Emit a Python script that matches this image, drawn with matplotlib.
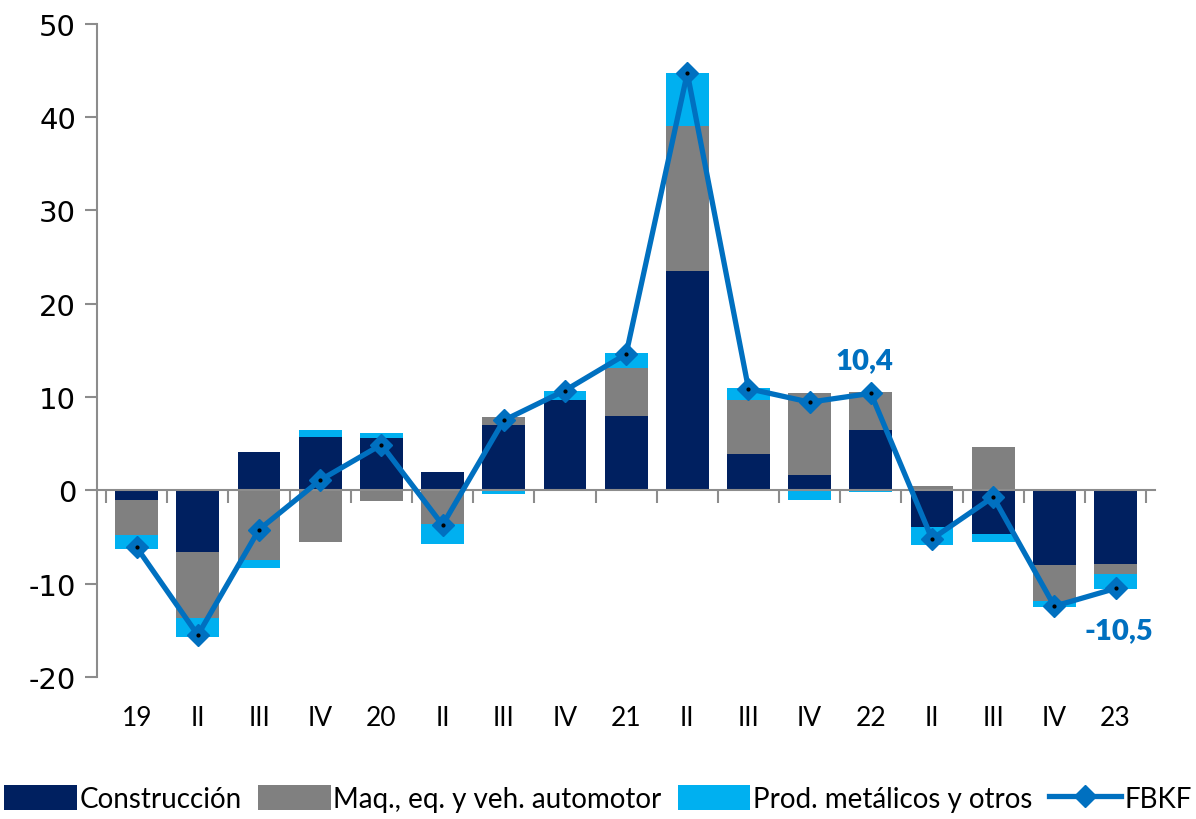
import numpy as np
import matplotlib.pyplot as plt

# datos (variacion % anual, contribuciones)
periodos = ['19', 'II', 'III', 'IV', '20', 'II', 'III', 'IV', '21', 'II', 'III', 'IV', '22', 'II', 'III', 'IV', '23']
construccion = [-1.0, -6.6, 4.1, 5.75, 5.6, 2.0, 7.0, 9.7, 8.0, 23.5, 3.9, 1.65, 6.45, -3.95, -4.65, -8.0, -7.85]
maquinaria = [-3.8, -7.1, -7.4, -5.5, -1.15, -3.55, 0.85, 0.0, 5.1, 15.5, 5.75, 8.8, 4.1, 0.5, 4.7, -3.8, -1.05]
prod_metalicos = [-1.5, -2.0, -0.9, 0.75, 0.5, -2.15, -0.35, 1.0, 1.6, 5.7, 1.35, -1.0, -0.15, -1.85, -0.9, -0.7, -1.65]
fbkf = [-6.1, -15.5, -4.2, 1.1, 4.9, -3.7, 7.5, 10.7, 14.6, 44.7, 10.9, 9.45, 10.4, -5.2, -0.7, -12.4, -10.5]

azul_osc = '#002060'
gris = '#808080'
celeste = '#00B0F0'
azul = '#0070C0'

plt.rcParams['font.family'] = ['Lato', 'DejaVu Sans']
plt.rcParams['axes.unicode_minus'] = False

fig = plt.figure(figsize=(11.96, 8.2), dpi=100)
ax = fig.add_axes([0.081, 0.173, 0.885, 0.797])

x = np.arange(len(periodos))
ancho = 0.7

# apilado separado para positivos y negativos (estilo Excel)
pos_base = np.zeros(len(x))
neg_base = np.zeros(len(x))
for serie, color, nombre in [(construccion, azul_osc, 'Construcción'),
                             (maquinaria, gris, 'Maq., eq. y veh. automotor'),
                             (prod_metalicos, celeste, 'Prod. metálicos y otros')]:
    v = np.array(serie)
    base = np.where(v >= 0, pos_base, neg_base)
    ax.bar(x, v, ancho, bottom=base, color=color, label=nombre, zorder=2)
    pos_base = pos_base + np.where(v >= 0, v, 0)
    neg_base = neg_base + np.where(v < 0, v, 0)

ax.plot(x, fbkf, color=azul, linewidth=3.8, marker='D', markersize=11,
        markerfacecolor=azul, markeredgecolor=azul, label='FBKF', zorder=3)
ax.plot(x, fbkf, linestyle='none', marker='.', markersize=4, color='black', zorder=4)

# etiquetas de datos
ax.text(x[12] - 0.1, fbkf[12] + 3.6, '10,4', color=azul, fontsize=21,
        fontweight='heavy', ha='center', va='center')
ax.text(x[16] + 0.05, fbkf[16] - 4.5, '-10,5', color=azul, fontsize=21,
        fontweight='heavy', ha='center', va='center')

ax.set_ylim(-20, 50)
ax.set_xlim(-0.65, len(x) - 0.35)
ax.set_yticks(range(-20, 51, 10))
ax.tick_params(axis='y', labelsize=21, length=9, width=1.5, color='#8c8c8c', pad=6)
for lab in ax.get_yticklabels():
    lab.set_fontfamily('DejaVu Sans')

ax.spines['top'].set_visible(False)
ax.spines['right'].set_visible(False)
ax.spines['left'].set_color('#8c8c8c')
ax.spines['left'].set_linewidth(1.5)
ax.spines['bottom'].set_position(('data', 0))
ax.spines['bottom'].set_color('#8c8c8c')
ax.spines['bottom'].set_linewidth(1.5)

# marcas entre categorias, etiquetas abajo
ax.set_xticks(np.arange(-0.5, len(x), 1))
ax.set_xticklabels([])
ax.tick_params(axis='x', length=9, width=1.5, color='#8c8c8c', direction='out')
for i, p in enumerate(periodos):
    ax.text(i, -0.062, p, transform=ax.get_xaxis_transform(), ha='center', va='center',
            fontsize=19)

# orden de la leyenda: barras primero, FBKF al final
h, l = ax.get_legend_handles_labels()
orden = [1, 2, 3, 0]
fig.legend([h[i] for i in orden], [l[i] for i in orden], loc='center',
           bbox_to_anchor=(0.5, 0.025), ncol=4, frameon=False,
           fontsize=20, handlelength=2.6, handleheight=1.0, handletextpad=0.1,
           columnspacing=0.6)

fig.savefig('out.png', dpi=100)
